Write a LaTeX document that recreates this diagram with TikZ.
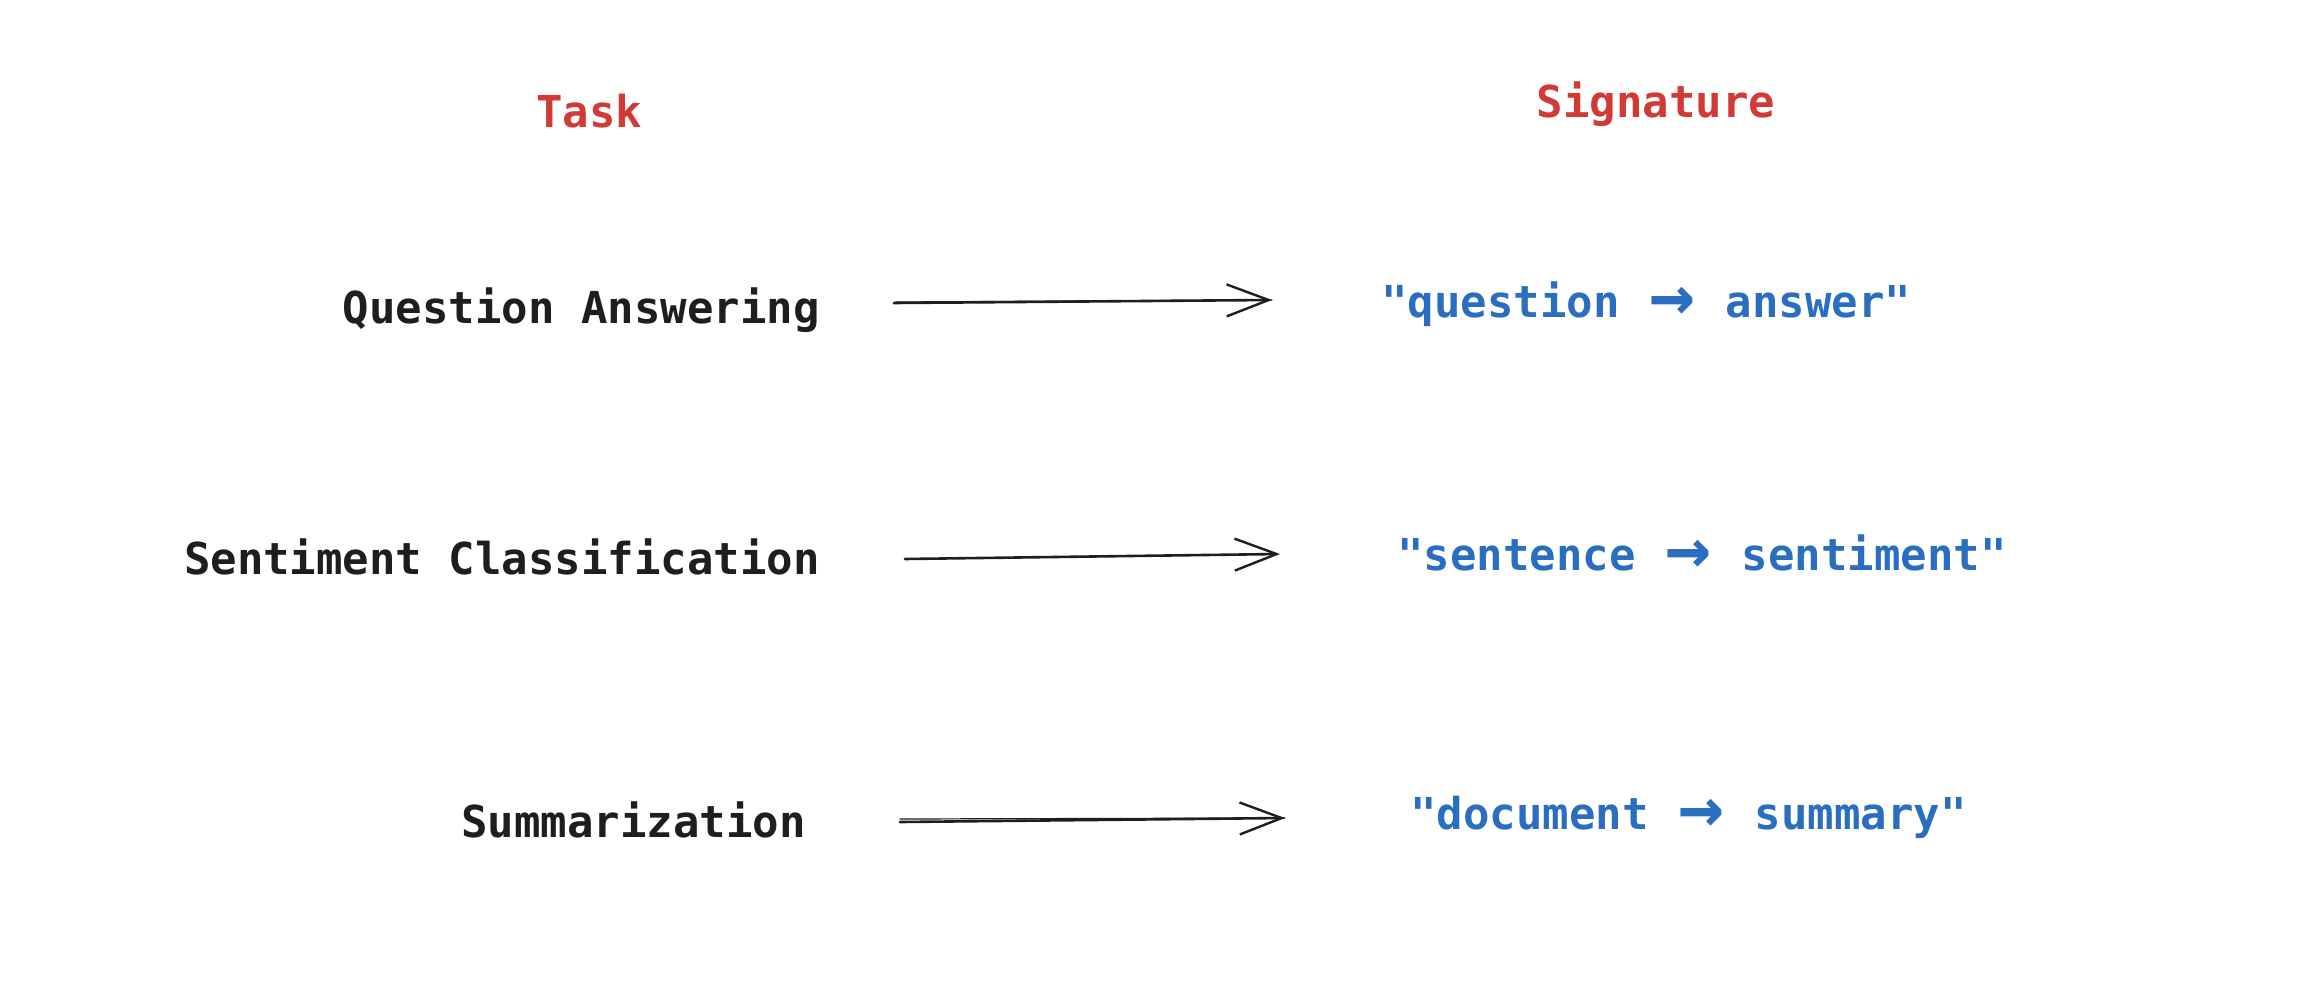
\documentclass[tikz,border=0pt]{standalone}
\usepackage{fontspec}
\setmonofont{DejaVu Sans Mono}
\usetikzlibrary{arrows.meta,calc}
\definecolor{tred}{HTML}{D23B35}
\definecolor{sblue}{HTML}{2A6EBF}
\definecolor{ink}{HTML}{1E1E1E}
\newcommand{\arr}{\makebox[53pt]{\raisebox{-4pt}{\fontsize{76}{76}\selectfont →}}}
\begin{document}
\begin{tikzpicture}[x=1pt,y=-1pt,
  lbl/.style={font=\ttfamily\bfseries\fontsize{44}{52}\selectfont, inner sep=0pt, anchor=base},
  head/.style={lbl, text=tred},
  task/.style={lbl, text=ink, anchor=base east},
  sig/.style={lbl, text=sblue, anchor=base west},
  conn/.style={draw=ink, line width=2.6pt, line cap=round},
  thin/.style={draw=ink, line width=1.2pt, line cap=round},
  tip/.style={-{Straight Barb[length=42pt,width=32pt,line width=2.4pt]}}]
\useasboundingbox (0,0) rectangle (2304,1008);
% headers
\node[head] (h1) at (589,128) {Task};
\node[head] (h2) at (1656,118) {Signature};
% tasks
\node[task] (t1) at (820,323) {Question Answering};
\node[task] (t2) at (820,574) {Sentiment Classification};
\node[task] (t3) at (806,837) {Summarization};
% signatures
\node[sig] (s1) at (1381,317) {"question \arr{} answer"};
\node[sig] (s2) at (1397,570) {"sentence \arr{} sentiment"};
\node[sig] (s3) at (1410,829) {"document \arr{} summary"};
% arrow ends
\coordinate (a1s) at (894,303); \coordinate (a1e) at (1272,300);
\coordinate (a2s) at (905,559); \coordinate (a2e) at (1280,554);
\coordinate (a3s) at (900,822); \coordinate (a3e) at (1285,818);
\draw[thin] ($(a1s)+(2,-1)$) -- (a1e);
\draw[conn,tip] (a1s) -- (a1e);
\draw[conn,tip] (a2s) -- (a2e);
\draw[thin] ($(a3s)+(0,-3)$) -- (a3e);
\draw[conn,tip] (a3s) -- (a3e);
\end{tikzpicture}
\end{document}
